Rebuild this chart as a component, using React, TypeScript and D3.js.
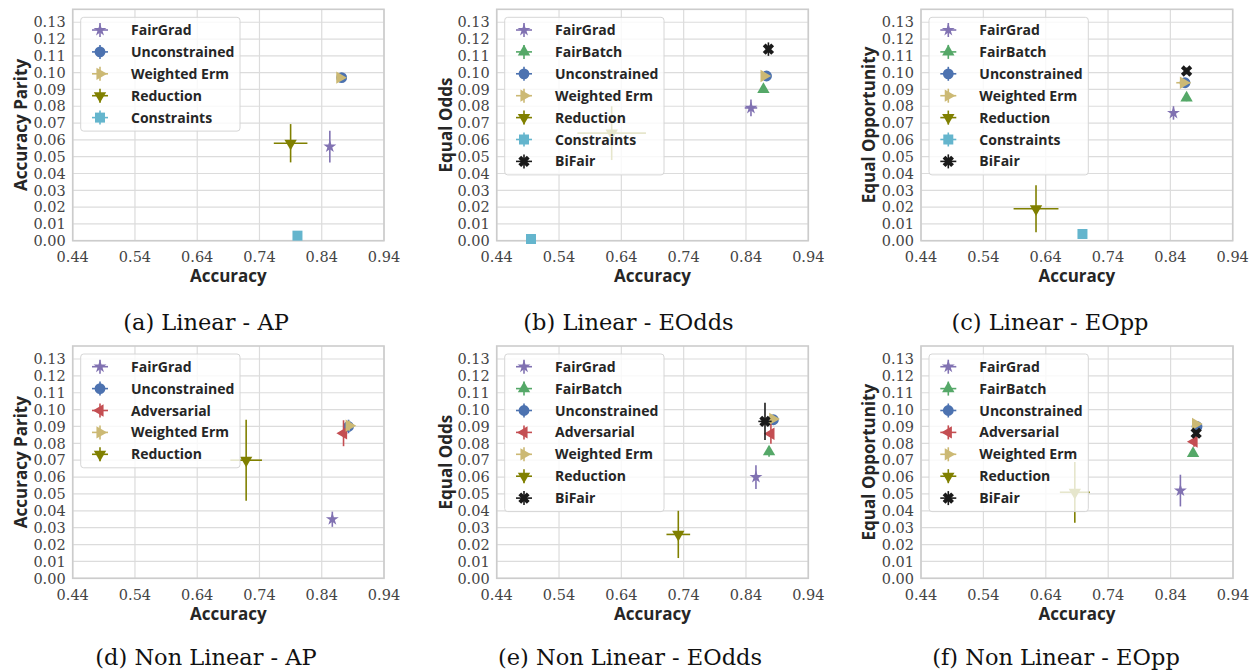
import React from "react";
import * as d3 from "d3";

// ---------- data ----------
const X_TICKS = [0.44, 0.54, 0.64, 0.74, 0.84, 0.94];
const Y_TICKS = [0.0, 0.01, 0.02, 0.03, 0.04, 0.05, 0.06, 0.07, 0.08, 0.09, 0.1, 0.11, 0.12, 0.13];
const X_DOMAIN = [0.44, 0.94];
const Y_DOMAIN = [0, 0.1377];

const METHODS = ["FairGrad", "FairBatch", "Unconstrained", "Adversarial", "Weighted Erm", "Reduction", "Constraints", "BiFair"];

// [method, accuracy, accuracy error, fairness, fairness error]
const LINEAR_AP = [
  ["FairGrad", 0.853, 0.002, 0.056, 0.0095],
  ["Unconstrained", 0.872, 0.002, 0.097, 0.001],
  ["Weighted Erm", 0.869, 0.002, 0.097, 0.001],
  ["Reduction", 0.79, 0.027, 0.058, 0.0114],
  ["Constraints", 0.801, 0.001, 0.003, 0.0005],
];
const LINEAR_EODDS = [
  ["FairGrad", 0.848, 0.01, 0.079, 0.005],
  ["FairBatch", 0.868, 0.002, 0.09, 0.002],
  ["Unconstrained", 0.873, 0.002, 0.098, 0.001],
  ["Weighted Erm", 0.869, 0.002, 0.098, 0.001],
  ["Reduction", 0.6245, 0.055, 0.064, 0.016],
  ["Constraints", 0.495, 0.001, 0.001, 0.0005],
  ["BiFair", 0.876, 0.002, 0.114, 0.004],
];
const LINEAR_EOPP = [
  ["FairGrad", 0.845, 0.003, 0.076, 0.004],
  ["FairBatch", 0.866, 0.002, 0.085, 0.002],
  ["Unconstrained", 0.8635, 0.003, 0.094, 0.002],
  ["Weighted Erm", 0.861, 0.0115, 0.094, 0.001],
  ["Reduction", 0.6245, 0.036, 0.019, 0.014],
  ["Constraints", 0.699, 0.001, 0.004, 0.0005],
  ["BiFair", 0.866, 0.002, 0.101, 0.002],
];
const NONLINEAR_AP = [
  ["FairGrad", 0.857, 0.002, 0.035, 0.0045],
  ["Unconstrained", 0.883, 0.002, 0.09, 0.004],
  ["Adversarial", 0.875, 0.006, 0.086, 0.0077],
  ["Weighted Erm", 0.884, 0.002, 0.0905, 0.003],
  ["Reduction", 0.7186, 0.0254, 0.07, 0.024],
];
const NONLINEAR_EODDS = [
  ["FairGrad", 0.856, 0.002, 0.06, 0.007],
  ["FairBatch", 0.877, 0.002, 0.075, 0.003],
  ["Unconstrained", 0.884, 0.003, 0.094, 0.002],
  ["Adversarial", 0.88, 0.003, 0.0857, 0.006],
  ["Weighted Erm", 0.883, 0.002, 0.0945, 0.001],
  ["Reduction", 0.7314, 0.019, 0.026, 0.014],
  ["BiFair", 0.8705, 0.0107, 0.093, 0.011],
];
const NONLINEAR_EOPP = [
  ["FairGrad", 0.8557, 0.002, 0.052, 0.0094],
  ["FairBatch", 0.876, 0.002, 0.074, 0.002],
  ["Unconstrained", 0.8824, 0.002, 0.09, 0.002],
  ["Adversarial", 0.8776, 0.002, 0.081, 0.003],
  ["Weighted Erm", 0.88, 0.002, 0.0915, 0.001],
  ["Reduction", 0.6865, 0.024, 0.051, 0.018],
  ["BiFair", 0.881, 0.002, 0.086, 0.002],
];

const Y_LABELS = ["Accuracy Parity", "Equal Odds", "Equal Opportunity"];
const CAPTIONS = [
  "(a) Linear - AP",
  "(b) Linear - EOdds",
  "(c) Linear - EOpp",
  "(d) Non Linear - AP",
  "(e) Non Linear - EOdds",
  "(f) Non Linear - EOpp",
];

// ---------- styles ----------
const STYLE: Record<string, { color: string; type: any; size: number; rot: number }> = {
  FairGrad: { color: "#8172B2", type: d3.symbolStar, size: 52, rot: 0 },
  FairBatch: { color: "#55A868", type: d3.symbolTriangle, size: 66, rot: 0 },
  Unconstrained: { color: "#4C72B0", type: d3.symbolCircle, size: 92, rot: 0 },
  Adversarial: { color: "#C44E52", type: d3.symbolTriangle, size: 66, rot: -90 },
  "Weighted Erm": { color: "#CCB974", type: d3.symbolTriangle, size: 66, rot: 90 },
  Reduction: { color: "#808000", type: d3.symbolTriangle, size: 66, rot: 180 },
  Constraints: { color: "#64B5CD", type: d3.symbolSquare, size: 100, rot: 0 },
  BiFair: { color: "#1a1a1a", type: d3.symbolCross, size: 80, rot: 45 },
};

const SERIF = "'DejaVu Serif', serif";
const SANS = "'Open Sans', 'DejaVu Sans', sans-serif";

const PANELS = [
  { data: LINEAR_AP, yl: 0, cap: 0, L: 72.7, R: 384, T: 9.3, B: 240.7, ylx: 20.7, cx: 206, cy: 330 },
  { data: LINEAR_EODDS, yl: 1, cap: 1, L: 496.7, R: 808.3, T: 9.3, B: 240.7, ylx: 445.7, cx: 628.5, cy: 330 },
  { data: LINEAR_EOPP, yl: 2, cap: 2, L: 921, R: 1232.7, T: 9.3, B: 240.7, ylx: 869.3, cx: 1050, cy: 330 },
  { data: NONLINEAR_AP, yl: 0, cap: 3, L: 72.7, R: 384, T: 346, B: 578.3, ylx: 20.7, cx: 206, cy: 665 },
  { data: NONLINEAR_EODDS, yl: 1, cap: 4, L: 496.7, R: 808.3, T: 346, B: 578.3, ylx: 445.7, cx: 630, cy: 665 },
  { data: NONLINEAR_EOPP, yl: 2, cap: 5, L: 921, R: 1233, T: 346, B: 578.3, ylx: 869, cx: 1056, cy: 665 },
];

function Marker({ name, x, y }: { name: string; x: number; y: number }) {
  const s = STYLE[name];
  const path = d3.symbol().type(s.type).size(s.size)() as string;
  return <path d={path} transform={`translate(${x},${y}) rotate(${s.rot})`} fill={s.color} />;
}

function Panel({ p }: { p: any }) {
  const x = d3.scaleLinear().domain(X_DOMAIN).range([p.L, p.R]);
  const y = d3.scaleLinear().domain(Y_DOMAIN).range([p.B, p.T]);
  const rows = [...p.data].sort((a: any, b: any) => METHODS.indexOf(a[0]) - METHODS.indexOf(b[0]));
  const legX = p.L + 8;
  const legY = p.T + 8;
  const legW = 159.3;
  const rowH = 21.9;
  const legH = rows.length * rowH + 4.3;
  return (
    <g>
      {/* grid */}
      {Y_TICKS.map((t) => (
        <line key={"gy" + t} x1={p.L} x2={p.R} y1={y(t)} y2={y(t)} stroke="#dcdcdc" strokeWidth={1.2} />
      ))}
      {X_TICKS.map((t) => (
        <line key={"gx" + t} x1={x(t)} x2={x(t)} y1={p.T} y2={p.B} stroke="#dcdcdc" strokeWidth={1.2} />
      ))}
      {/* spines */}
      <rect x={p.L} y={p.T} width={p.R - p.L} height={p.B - p.T} fill="none" stroke="#cccccc" strokeWidth={1.6} />
      {/* tick labels */}
      {Y_TICKS.map((t) => (
        <text key={"ty" + t} x={p.L - 7} y={y(t)} dy="0.36em" textAnchor="end" fontFamily={SERIF} fontSize={14.5} fill="#444">
          {d3.format(".2f")(t)}
        </text>
      ))}
      {X_TICKS.map((t) => (
        <text key={"tx" + t} x={x(t)} y={p.B + 21.5} textAnchor="middle" fontFamily={SERIF} fontSize={14.5} fill="#444">
          {d3.format(".2f")(t)}
        </text>
      ))}
      {/* axis labels */}
      <text x={(p.L + p.R) / 2} y={p.B + 41.5} textAnchor="middle" fontFamily={SANS} fontWeight="bold" fontSize={17} fill="#262626">
        Accuracy
      </text>
      <text
        transform={`translate(${p.ylx},${(p.T + p.B) / 2}) rotate(-90)`}
        dy="0.36em"
        textAnchor="middle"
        fontFamily={SANS}
        fontWeight="bold"
        fontSize={17}
        fill="#262626"
      >
        {Y_LABELS[p.yl]}
      </text>
      {/* data */}
      {rows.map((r: any) => {
        const c = STYLE[r[0]].color;
        return (
          <g key={"d" + r[0]}>
            <line x1={x(r[1] - r[2])} x2={x(r[1] + r[2])} y1={y(r[3])} y2={y(r[3])} stroke={c} strokeWidth={1.6} />
            <line x1={x(r[1])} x2={x(r[1])} y1={y(r[3] - r[4])} y2={y(r[3] + r[4])} stroke={c} strokeWidth={1.6} />
            <Marker name={r[0]} x={x(r[1])} y={y(r[3])} />
          </g>
        );
      })}
      {/* legend */}
      <rect x={legX} y={legY} width={legW} height={legH} rx={3} fill="#ffffff" fillOpacity={0.8} stroke="#d6d6d6" strokeWidth={1} />
      {rows.map((r: any, i: number) => {
        const cy = legY + 12.7 + i * rowH;
        const mx = legX + 19.3;
        const c = STYLE[r[0]].color;
        return (
          <g key={"l" + r[0]}>
            <line x1={mx - 8} x2={mx + 8} y1={cy} y2={cy} stroke={c} strokeWidth={1.6} />
            <line x1={mx} x2={mx} y1={cy - 7} y2={cy + 7} stroke={c} strokeWidth={1.6} />
            <Marker name={r[0]} x={mx} y={cy} />
            <text x={legX + 50.3} y={cy} dy="0.36em" fontFamily={SANS} fontWeight="bold" fontSize={14} fill="#262626">
              {r[0]}
            </text>
          </g>
        );
      })}
      {/* caption */}
      <text x={p.cx} y={p.cy} textAnchor="middle" fontFamily={SERIF} fontSize={22.5} fill="#111">
        {CAPTIONS[p.cap]}
      </text>
    </g>
  );
}

export default function App() {
  return (
    <svg width={1252} height={670} style={{ position: "absolute", left: 0, top: 0, background: "#fff" }}>
      <rect width={1252} height={670} fill="#fff" />
      {PANELS.map((p, i) => (
        <Panel key={i} p={p} />
      ))}
    </svg>
  );
}
